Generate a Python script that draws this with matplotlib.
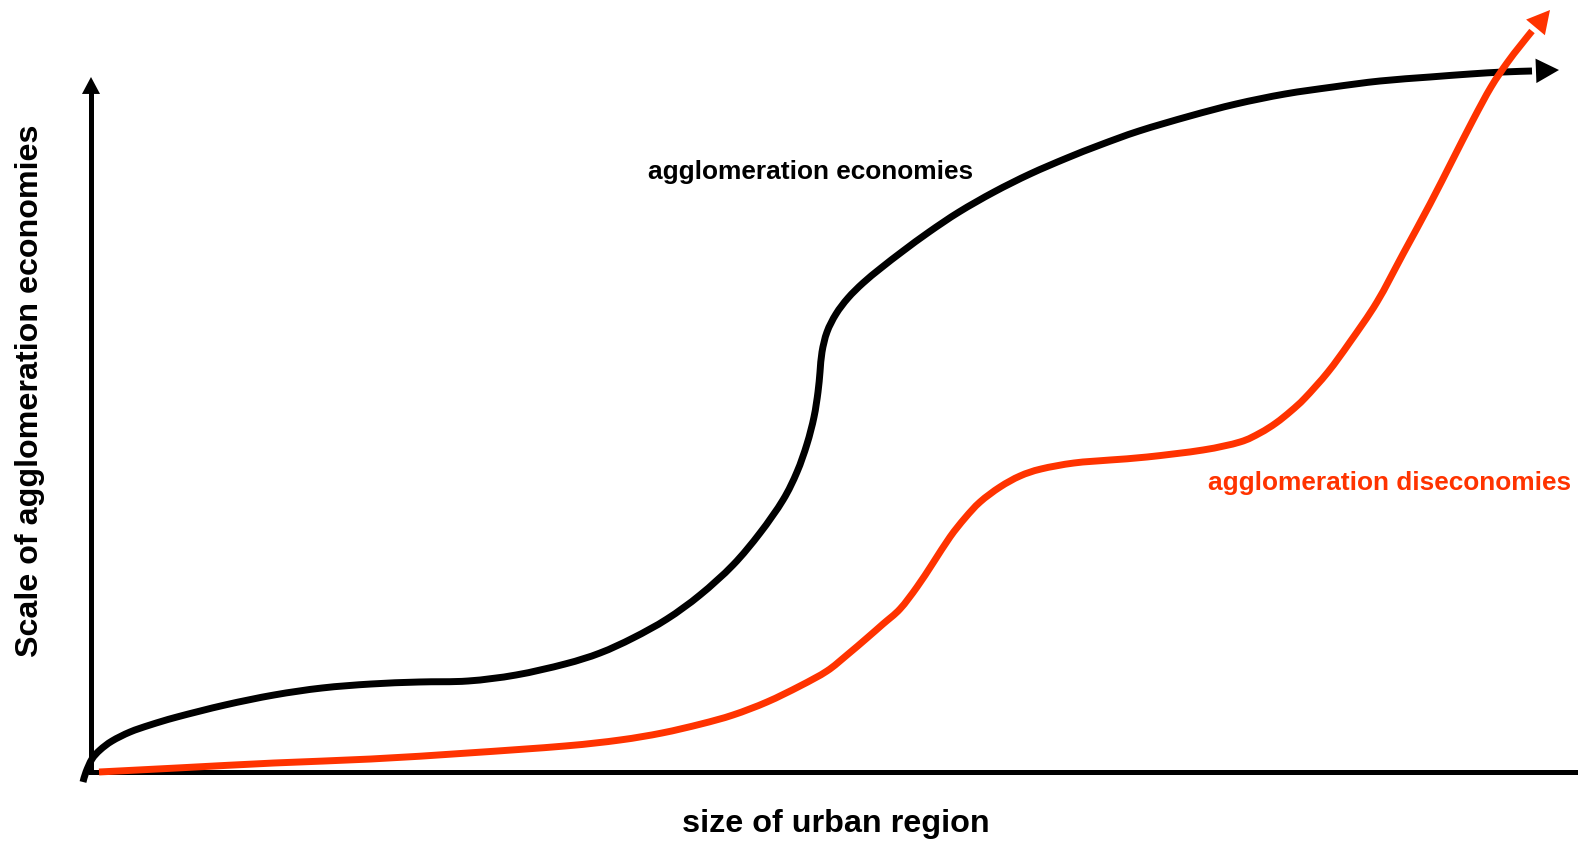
import matplotlib
matplotlib.use("Agg")
import matplotlib.pyplot as plt
from matplotlib.path import Path
from matplotlib.patches import PathPatch

# ---- data (x: size of urban region, y: scale; origin at axes corner) ----
econ_x = [-8, -5, 1, 9, 21, 39, 59, 86, 134, 183, 231, 280, 328, 377, 425, 474, 509,
          542, 576, 609, 642, 669, 692, 706, 716, 723, 727, 729, 731, 736, 745, 757,
          772, 790, 812, 838, 868, 903, 939, 976, 1009, 1048, 1099, 1145, 1194, 1242, 1289,
          1339, 1379, 1412, 1441]
econ_y = [-10, 0, 13, 22, 31, 40, 47, 55, 67, 77, 84, 88, 90, 91, 97, 108, 119,
          134, 153, 177, 207, 239, 272, 300, 328, 355, 380, 400, 420, 440, 458, 474,
          489, 504, 521, 540, 560, 580, 598, 614, 627, 641, 656, 668, 678, 685, 691,
          695, 698, 700, 701]
econ_tip = (1468, 702)

dis_x = [8, 86, 183, 280, 377, 474, 529, 571, 610, 642, 676, 709, 736, 756, 776, 792,
         809, 826, 842, 859, 874, 889, 909, 929, 950, 983, 1019, 1056, 1112, 1149, 1169,
         1185, 1200, 1214, 1237, 1259, 1286, 1312, 1339, 1361, 1382, 1400, 1416, 1429, 1441]
dis_y = [0, 4, 9, 13, 19, 26, 32, 39, 48, 57, 70, 86, 101, 117, 134, 148,
         163, 185, 209, 235, 254, 270, 285, 296, 303, 309, 312, 315, 322, 330, 339,
         349, 361, 374, 400, 430, 470, 518, 568, 611, 652, 685, 709, 726, 741]
dis_tip = (1459, 762)

axis_x_end = 1487
axis_y_top = 695

label_econ = "agglomeration economies"
label_dis = "agglomeration diseconomies"
xlabel = "size of urban region"
ylabel = "Scale of agglomeration economies"

RED = "#ff3300"
plt.rcParams['font.family'] = ['Liberation Sans', 'DejaVu Sans']


def smooth_path(xs, ys):
    """Bezier path through the read points (Catmull-Rom tangents)."""
    pts = list(zip(xs, ys))
    n = len(pts)
    verts = [pts[0]]
    codes = [Path.MOVETO]
    for i in range(n - 1):
        p0 = pts[i - 1] if i > 0 else pts[i]
        p1 = pts[i]
        p2 = pts[i + 1]
        p3 = pts[i + 2] if i + 2 < n else pts[i + 1]
        c1 = (p1[0] + (p2[0] - p0[0]) / 6.0, p1[1] + (p2[1] - p0[1]) / 6.0)
        c2 = (p2[0] - (p3[0] - p1[0]) / 6.0, p2[1] - (p3[1] - p1[1]) / 6.0)
        verts += [c1, c2, p2]
        codes += [Path.CURVE4] * 3
    return Path(verts, codes)


fig = plt.figure(figsize=(15.78, 8.42), dpi=100)
ax = fig.add_axes([0, 0, 1, 1])
ax.set_xlim(-91, 1487)
ax.set_ylim(-70, 772)
ax.axis('off')

# axes
ax.plot([-3, axis_x_end], [0, 0], color='black', lw=3.6, solid_capstyle='butt', zorder=2)
ax.plot([0, 0], [-1, axis_y_top - 10], color='black', lw=3.6, solid_capstyle='butt', zorder=2)
ax.annotate('', xy=(0, axis_y_top), xytext=(0, axis_y_top - 20),
            arrowprops=dict(arrowstyle='-|>,head_length=12.2,head_width=6.5',
                            mutation_scale=1, lw=0, color='black', shrinkA=0, shrinkB=0))

# curves
ax.add_patch(PathPatch(smooth_path(econ_x, econ_y), fill=False, edgecolor='black',
                       lw=5.0, capstyle='butt', joinstyle='round', zorder=3))
ax.annotate('', xy=econ_tip, xytext=(econ_x[-1], econ_y[-1]),
            arrowprops=dict(arrowstyle='-|>,head_length=16.6,head_width=8.8',
                            mutation_scale=1, lw=0, color='black', shrinkA=0, shrinkB=0),
            zorder=3)
ax.add_patch(PathPatch(smooth_path(dis_x, dis_y), fill=False, edgecolor=RED,
                       lw=5.0, capstyle='butt', joinstyle='round', zorder=4))
ax.annotate('', xy=dis_tip, xytext=(dis_x[-2], dis_y[-2]),
            arrowprops=dict(arrowstyle='-|>,head_length=16.3,head_width=8.8',
                            mutation_scale=1, lw=0, color=RED, shrinkA=0, shrinkB=0),
            zorder=4)

# text
ax.text(557, 593, label_econ, fontsize=18.9, fontweight='bold', color='black',
        ha='left', va='baseline')
ax.text(1117, 282, label_dis, fontsize=18.9, fontweight='bold', color=RED,
        ha='left', va='baseline')
ax.text(745, -60, xlabel, fontsize=23.3, fontweight='bold', color='black',
        ha='center', va='baseline')
ax.text(-61, 381, ylabel, fontsize=23.2, fontweight='bold', color='black',
        ha='center', va='center', rotation=90)

fig.savefig('out.png', dpi=100, facecolor='white')
